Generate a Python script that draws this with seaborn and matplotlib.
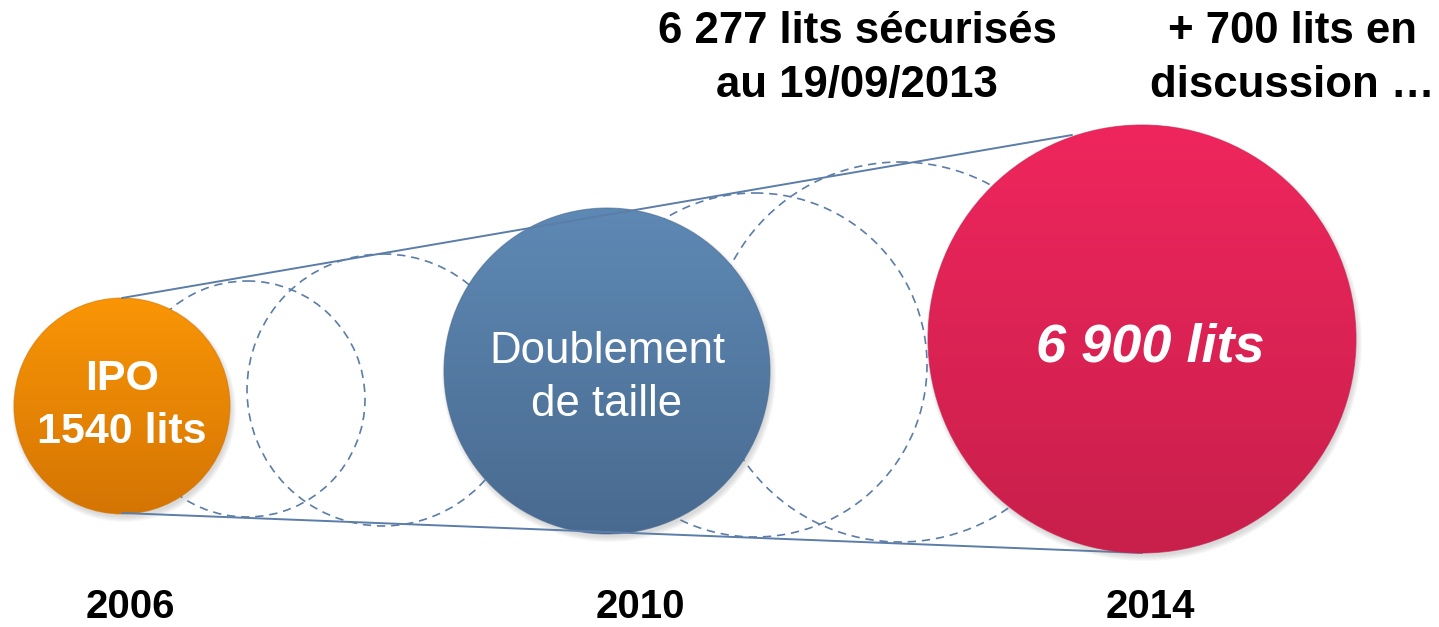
import numpy as np
import pandas as pd
import matplotlib
matplotlib.use("Agg")
import matplotlib.pyplot as plt
import matplotlib.colors as mcolors
from matplotlib.patches import Circle
import seaborn as sns

# milestones (solid bubbles)
years = ["2006", "2010", "2014"]
bubble_x = [122, 607, 1142]
bubble_y = [406, 371, 339]
bubble_r = [108, 163, 214]
top_colors = ["#FA9506", "#5E89B4", "#EF265D"]
bottom_colors = ["#D47503", "#496A90", "#C81F4B"]

# intermediate growth steps (dashed bubbles)
step_x = [247, 383, 755, 900]
step_y = [399, 390, 365, 352]
step_r = [118, 136, 172, 190]

# envelope lines
env_top_x = [122, 1072]
env_top_y = [298, 135]
env_bot_x = [122, 1142]
env_bot_y = [513, 553]

year_x = [130, 640, 1150]
note1 = ["6 277 lits sécurisés", "au 19/09/2013"]
note2 = ["+ 700 lits en", "discussion …"]

sns.set_theme(style="white")
plt.rcParams['font.family'] = ['Liberation Sans', 'DejaVu Sans']

fig = plt.figure(figsize=(14.39, 6.27), dpi=100)
ax = fig.add_axes([0, 0, 1, 1])
ax.set_xlim(0, 1439)
ax.set_ylim(627, 0)
ax.axis('off')

line_col = "#5B7DA8"

for x, y, r in zip(step_x, step_y, step_r):
    ax.add_patch(Circle((x, y), r, fill=False, ec=line_col, lw=1.2,
                        ls=(0, (5, 3.5)), zorder=1))

for i in range(len(years)):
    x, y, r = bubble_x[i], bubble_y[i], bubble_r[i]
    # soft shadow
    for k in range(6):
        ax.add_patch(Circle((x + 2, y + 4), r + 4 - k, color="#808080",
                            alpha=0.05, lw=0, zorder=2 + i * 2))
    c1 = np.array(mcolors.to_rgb(top_colors[i]))
    c2 = np.array(mcolors.to_rgb(bottom_colors[i]))
    t = np.linspace(0, 1, 256)[:, None, None]
    grad = c1 * (1 - t) + c2 * t
    grad = np.repeat(grad, 2, axis=1)
    im = ax.imshow(grad, extent=(x - r, x + r, y + r, y - r), origin='upper',
                   aspect='auto', interpolation='bilinear', zorder=2.5 + i * 2)
    clip = Circle((x, y), r, transform=ax.transData)
    im.set_clip_path(clip)
    ax.add_patch(Circle((x, y), r, fill=False, ec=bottom_colors[i], lw=0.8,
                        alpha=0.6, zorder=2.6 + i * 2))

sns.lineplot(x=env_top_x, y=env_top_y, ax=ax, color=line_col, lw=1.4,
             sort=False, zorder=5)
sns.lineplot(x=env_bot_x, y=env_bot_y, ax=ax, color=line_col, lw=1.4,
             sort=False, zorder=5)
ax.set_xlim(0, 1439)
ax.set_ylim(627, 0)

# labels in bubbles
ax.text(122, 390, "IPO", ha='center', va='baseline', color='white',
        fontsize=31, fontweight='bold', zorder=10)
ax.text(122, 443, "1540 lits", ha='center', va='baseline', color='white',
        fontsize=31, fontweight='bold', zorder=10)
ax.text(607, 363, "Doublement", ha='center', va='baseline', color='white',
        fontsize=31.5, zorder=10)
ax.text(607, 416, "de taille", ha='center', va='baseline', color='white',
        fontsize=31.5, zorder=10)
ax.text(1150, 362, "6 900 lits", ha='center', va='baseline', color='white',
        fontsize=39, fontweight='bold', fontstyle='italic', zorder=10)

for yr, x in zip(years, year_x):
    ax.text(x, 618, yr, ha='center', va='baseline', color='black',
            fontsize=29, fontweight='bold')

for j, s in enumerate(note1):
    ax.text(857, 43 + j * 54, s, ha='center', va='baseline', color='black',
            fontsize=31.5, fontweight='bold')
for j, s in enumerate(note2):
    ax.text(1292, 43 + j * 54, s, ha='center', va='baseline', color='black',
            fontsize=31.5, fontweight='bold')

fig.savefig("out.png", dpi=100)
